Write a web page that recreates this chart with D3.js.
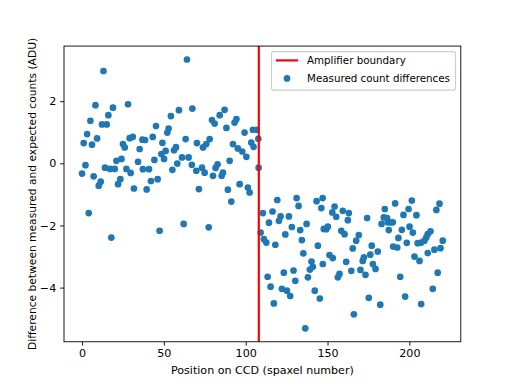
<!DOCTYPE html>
<html><head><meta charset="utf-8">
<script src="https://cdn.jsdelivr.net/npm/d3@7/dist/d3.min.js"></script>
<style>body{margin:0;background:#fff}svg{display:block}text{font-family:"DejaVu Sans",sans-serif}</style>
</head><body><svg id="c" width="512" height="384"></svg>
<script>
// Spaxel positions and measured count differences (ADU)
const positions = [
0,1.0,2.1,3.1,4.1,5.1,6.1,7.1,8.2,9.2,10.2,11.4,12.2,13.1,14.0,15.1,16.1,17.1,17.9,18.9,20.0,21.0,22.0,23.4,24.1,25.0,26.1,27.1,28.1,29.1,29.7,31.0,31.7,34.2,35.2,36.9,37.2,38.5,39.5,40.9,42.1,43.2,44.2,45.2,46.2,47.4,48.5,49.1,50.1,51.1,52.1,52.9,54.3,55.2,56.2,57.4,58.2,59.2,61.1,62.1,63.3,64.1,65.1,67.1,67.4,69.8,70.2,71.4,73.3,73.9,74.9,75.9,77.4,78.0,79.4,80.0,81.0,81.6,82.8,84.1,85.3,86.1,87.1,88.2,89.1,90.2,91.2,92.2,93.2,94.3,95.2,96.3,97.9,99.3,100.4,101.3,102.4,103.4,104.4,104.8,106.5,107.7,107.9,
109.1,110.5,111.1,112.6,113.4,114.2,115.2,116.4,117.2,118.1,119.3,120.3,121.3,122.1,123.3,124.2,125.2,126.4,127.2,128.2,129.2,130.3,131.1,132.3,133.3,134.3,135.2,136.4,137.2,138.0,139.2,140.2,141.0,142.2,143.3,144.1,145.3,146.2,147.0,147.1,147.7,149.2,150.2,151.2,152.9,153.2,154.3,155.3,156.3,157.3,158.4,159.3,160.4,161.4,162.4,163.0,164.5,165.4,166.1,167.5,169.1,170.1,171.5,172.2,173.2,174.2,175.2,176.1,177.0,177.7,179.3,180.7,182.2,183.0,184.4,185.0,186.4,186.8,187.4,188.5,189.9,190.1,191.3,192.6,193.3,194.4,195.4,196.4,197.4,198.4,199.5,200.1,201.5,202.1,203.1,204.3,205.1,206.2,207.2,207.2,209.2,210.3,211.2,211.2,212.9,214.3,215.3,216.5,217.3,218.4,219.0,220.4];
const differences = [
-0.33,0.65,-0.06,0.94,-1.60,1.37,0.60,-0.42,1.87,0.80,-0.72,-0.59,1.25,2.97,-0.14,1.25,1.55,-0.18,-2.39,1.79,-0.18,0.08,-0.67,-0.51,0.14,0.62,0.51,-0.18,1.90,0.81,-0.31,0.85,-0.81,0.05,0.46,0.76,-0.19,0.75,-0.84,-0.19,-0.57,0.85,0.11,1.20,-0.51,-2.17,0.30,0.66,0.14,0.40,0.99,1.12,1.52,-0.21,0.42,0.52,-0.01,1.71,0.19,-1.95,0.78,3.34,0.19,-0.05,1.76,-0.24,0.65,-0.83,-0.14,0.51,-0.30,0.62,-2.06,0.78,1.39,-0.40,1.28,-0.15,-0.03,1.55,-0.40,-0.30,1.72,1.14,-0.85,0.08,-1.23,0.62,1.31,1.42,0.48,-0.67,0.38,0.99,0.21,-0.78,-0.94,0.67,1.08,0.53,1.08,0.79,-0.14,
-2.23,-1.60,-2.44,-2.55,-3.65,-1.91,-3.97,-1.55,-4.51,-2.62,-1.18,-1.85,-1.71,-4.04,-3.52,-2.29,-4.10,-1.71,-4.27,-2.05,-3.45,-3.78,-1.12,-1.37,-2.15,-2.47,-2.90,-5.31,-1.95,-3.67,-3.42,-3.16,-3.33,-4.10,-1.22,-2.65,-4.35,-1.44,-1.12,-3.24,-2.11,-2.12,-2.04,-2.95,-1.58,-3.05,-1.39,-1.72,-3.67,-3.56,-2.17,-1.53,-2.28,-3.17,-1.83,-1.60,-3.46,-2.74,-4.86,-2.49,-2.31,-3.43,-3.14,-3.03,-3.59,-1.76,-4.33,-2.94,-2.65,-3.24,-3.40,-2.84,-4.55,-1.95,-1.74,-1.47,-1.76,-1.90,-2.15,-1.90,-1.90,-2.68,-1.29,-2.71,-2.40,-3.65,-2.14,-1.66,-4.29,-2.56,-1.47,-2.04,-1.20,-2.23,-3.00,-1.67,-2.57,-3.14,-2.55,-4.53,-2.49,-2.39,-2.28,-2.89,-2.19,-4.04,-2.78,-1.50,-3.52,-1.30,-2.73,-2.49];
const boundaryPosition = 108;
const xTicks = [0, 50, 100, 150, 200];
const yTicks = [-4, -2, 0, 2];
const legendLabels = ["Amplifier boundary", "Measured count differences"];
const xLabel = "Position on CCD (spaxel number)";
const yLabel = "Difference between measured and expected counts (ADU)";

const W = 512, H = 384;
const m = {l: 64, r: 460.8, t: 46.08, b: 341.76};
const fs = 11.1, tick = 3.9;
const svg = d3.select("#c");

const [xmin, xmax] = d3.extent(positions);
const [ymin, ymax] = d3.extent(differences);
const xm = (xmax - xmin) * 0.05, ym = (ymax - ymin) * 0.05;
const x = d3.scaleLinear().domain([xmin - xm, xmax + xm]).range([m.l, m.r]);
const y = d3.scaleLinear().domain([ymin - ym, ymax + ym]).range([m.b, m.t]);

const pts = positions.map((p, i) => ({p, d: differences[i]}));

// scatter
svg.append("g").selectAll("circle").data(pts).join("circle")
  .attr("cx", d => x(d.p)).attr("cy", d => y(d.d)).attr("r", 3.35)
  .attr("fill", "#1f77b4");

// boundary line
svg.append("line")
  .attr("x1", x(boundaryPosition)).attr("x2", x(boundaryPosition))
  .attr("y1", m.t).attr("y2", m.b)
  .attr("stroke", "red").attr("stroke-width", 2.2);

// axes
const gx = svg.append("g").attr("transform", `translate(0,${m.b})`)
  .call(d3.axisBottom(x).tickValues(xTicks).tickSize(tick).tickPadding(3.9).tickFormat(d3.format("d")));
const gy = svg.append("g").attr("transform", `translate(${m.l},0)`)
  .call(d3.axisLeft(y).tickValues(yTicks).tickSize(tick).tickPadding(3.9).tickFormat(d3.format("d")));
[gx, gy].forEach(g => {
  g.select(".domain").remove();
  g.selectAll(".tick line").attr("stroke", "#000").attr("stroke-width", 0.9);
  g.selectAll(".tick text").attr("font-size", fs).attr("fill", "#000")
    .attr("font-family", "DejaVu Sans");
});

// frame
svg.append("rect").attr("x", m.l).attr("y", m.t)
  .attr("width", m.r - m.l).attr("height", m.b - m.t)
  .attr("fill", "none").attr("stroke", "#000").attr("stroke-width", 0.9);

// labels
svg.append("text").attr("x", (m.l + m.r) / 2).attr("y", 373.5)
  .attr("text-anchor", "middle").attr("font-size", fs).text(xLabel);
svg.append("text").attr("transform", `translate(35.5,${(m.t + m.b) / 2}) rotate(-90)`)
  .attr("text-anchor", "middle").attr("font-size", 10.7).text(yLabel);

// legend
const lg = svg.append("g");
const lx = 271.5, ly = 51.6, lw = 184, lh = 38.5;
lg.append("rect").attr("x", lx).attr("y", ly).attr("width", lw).attr("height", lh)
  .attr("rx", 2.2).attr("fill", "#fff").attr("fill-opacity", 0.8)
  .attr("stroke", "#cccccc").attr("stroke-width", 1.1);
const row1 = ly + 8.8, row2 = ly + 26.3;
lg.append("line").attr("x1", lx + 4.4).attr("x2", lx + 26.6)
  .attr("y1", row1).attr("y2", row1).attr("stroke", "red").attr("stroke-width", 2.2);
lg.append("circle").attr("cx", lx + 15.5).attr("cy", row2 + 0.5).attr("r", 3.35).attr("fill", "#1f77b4");
lg.selectAll("text.lab").data(legendLabels).join("text").attr("class", "lab")
  .attr("x", lx + 35.5).attr("y", (d, i) => (i ? row2 : row1) + 3.8)
  .attr("font-size", 10.3).text(d => d);
</script></body></html>
